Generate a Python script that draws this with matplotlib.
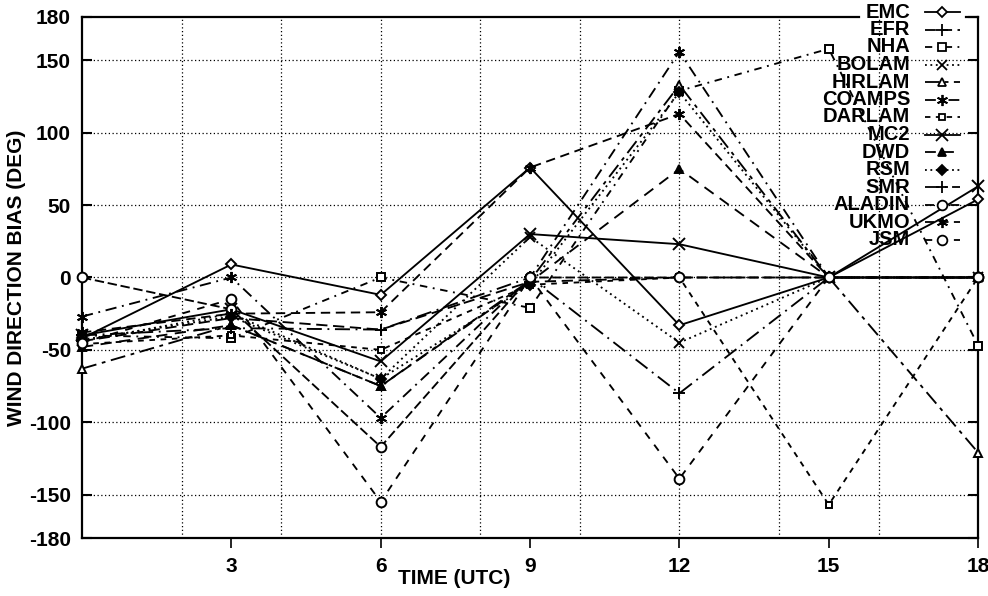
import numpy as np
import matplotlib.pyplot as plt
from matplotlib.lines import Line2D

plt.rcParams['font.family'] = ['Liberation Sans', 'DejaVu Sans']
plt.rcParams['font.weight'] = 'bold'
plt.rcParams['axes.unicode_minus'] = False

# hours (UTC) and wind direction bias (deg) per model
hours = [0, 3, 6, 9, 12, 15, 18]
emc = [-42, 9, -12, 76, -33, 0, 54]
efr = [-44, -28, -36, -3, 0, 0, 0]
nha = [-40, -42, 0, -21, 129, 158, -47]
bolam = [-44, -25, -70, 28, -45, 0, 0]
hirlam = [-63, -33, -75, -2, 133, 0, -121]
coamps = [-27, 0, -97, 0, 156, 0, 0]
darlam = [-46, -40, -50, -5, 0, -157, 0]
mc2 = [-40, -22, -58, 30, 23, 0, 63]
dwd = [-48, -33, -75, -3, 75, 0, 0]
rsm = [-43, -27, -70, -5, 128, 0, 0]
smr = [-40, -35, -36, 0, -80, 0, 0]
aladin = [0, -22, -117, 0, 0, 0, 0]
ukmo = [-38, -25, -24, 76, 113, 0, 0]
jsm = [-45, -15, -155, 0, -139, 0, 0]

labels = ['EMC', 'EFR', 'NHA', 'BOLAM', 'HIRLAM', 'COAMPS', 'DARLAM',
          'MC2', 'DWD', 'RSM', 'SMR', 'ALADIN', 'UKMO', 'JSM']
series = [emc, efr, nha, bolam, hirlam, coamps, darlam,
          mc2, dwd, rsm, smr, aladin, ukmo, jsm]

ytick_vals = [-180, -150, -100, -50, 0, 50, 100, 150, 180]
xtick_vals = [3, 6, 9, 12, 15, 18]

asterisk = (6, 2, 0)
# linestyle, marker, markersize, filled
styles = [
    ('-', 'D', 5, False),
    ((0, (6, 3)), '+', 8, False),
    ((0, (4, 3, 1, 3)), 's', 6, False),
    ((0, (1, 2)), 'x', 7, False),
    ((0, (8, 3, 2, 3)), '^', 6, False),
    ((0, (6, 3, 1, 3)), asterisk, 8, False),
    ((0, (3, 3)), 's', 5, False),
    ('-', 'x', 9, False),
    ((0, (6, 4)), '^', 6, True),
    ((0, (1, 2)), 'D', 5, True),
    ((0, (8, 3, 1, 3)), '+', 8, False),
    ((0, (5, 2)), 'o', 7, False),
    ((0, (5, 3)), asterisk, 8, False),
    ((0, (4, 4)), 'o', 7, False),
]

fig = plt.figure(figsize=(9.88, 5.96), dpi=100)
ax = fig.add_axes([0.083, 0.0973, 0.907, 0.8742])

for vals, (ls, mk, ms, filled) in zip(series, styles):
    ax.plot(hours, vals, color='black', lw=1.35, linestyle=ls, marker=mk,
            markersize=ms, markerfacecolor='black' if filled else 'white',
            markeredgecolor='black', markeredgewidth=1.4, clip_on=False, zorder=3)

ax.set_xlim(0, 18)
ax.set_ylim(-180, 180)
ax.set_xticks(xtick_vals)
ax.set_yticks(ytick_vals)
ax.set_yticklabels([str(v) for v in ytick_vals])
ax.tick_params(axis='x', direction='out', length=7, width=1.2,
               pad=7, labelsize=15)
ax.tick_params(axis='y', direction='in', length=7, width=1.5, pad=8,
               labelsize=15, right=True)

ax.grid(False)
for gx in [2, 4, 6, 8, 10, 12, 14, 16]:
    ax.axvline(gx, color='black', lw=0.9, linestyle=(0, (1, 2)), zorder=1)
for gy in [-150, -100, -50, 0, 50, 100, 150]:
    ax.axhline(gy, color='black', lw=0.9, linestyle=(0, (1, 2)), zorder=1)

for s in ax.spines.values():
    s.set_linewidth(1.6)
ax.spines['top'].set_visible(False)
ax.plot([0, 15.6], [180, 180], color='black', lw=1.6, clip_on=False, zorder=4)
ax.plot([17.75, 18], [180, 180], color='black', lw=1.6, clip_on=False, zorder=4)

ax.set_ylabel('WIND DIRECTION BIAS (DEG)', fontsize=15, fontweight='bold', labelpad=2)
fig.text(454 / 988, 1 - 578 / 596, 'TIME (UTC)', fontsize=15, fontweight='bold',
         ha='center', va='center')

# key drawn by hand: labels right aligned, sample line after the text
W, H = 988.0, 596.0
for i, (lab, (ls, mk, ms, filled)) in enumerate(zip(labels, styles)):
    yy = 1 - (12 + 17.5 * i) / H
    fig.text(910 / W, yy, lab, fontsize=14.5, fontweight='bold', ha='right',
             va='center')
    fig.add_artist(Line2D([925 / W, 960 / W], [yy, yy], color='black', lw=1.3,
                          linestyle=ls, transform=fig.transFigure))
    fig.add_artist(Line2D([942 / W], [yy], color='black', marker=mk,
                          markersize=ms, markeredgewidth=1.3,
                          markerfacecolor='black' if filled else 'white',
                          markeredgecolor='black', transform=fig.transFigure))

fig.savefig('out.png', dpi=100)
